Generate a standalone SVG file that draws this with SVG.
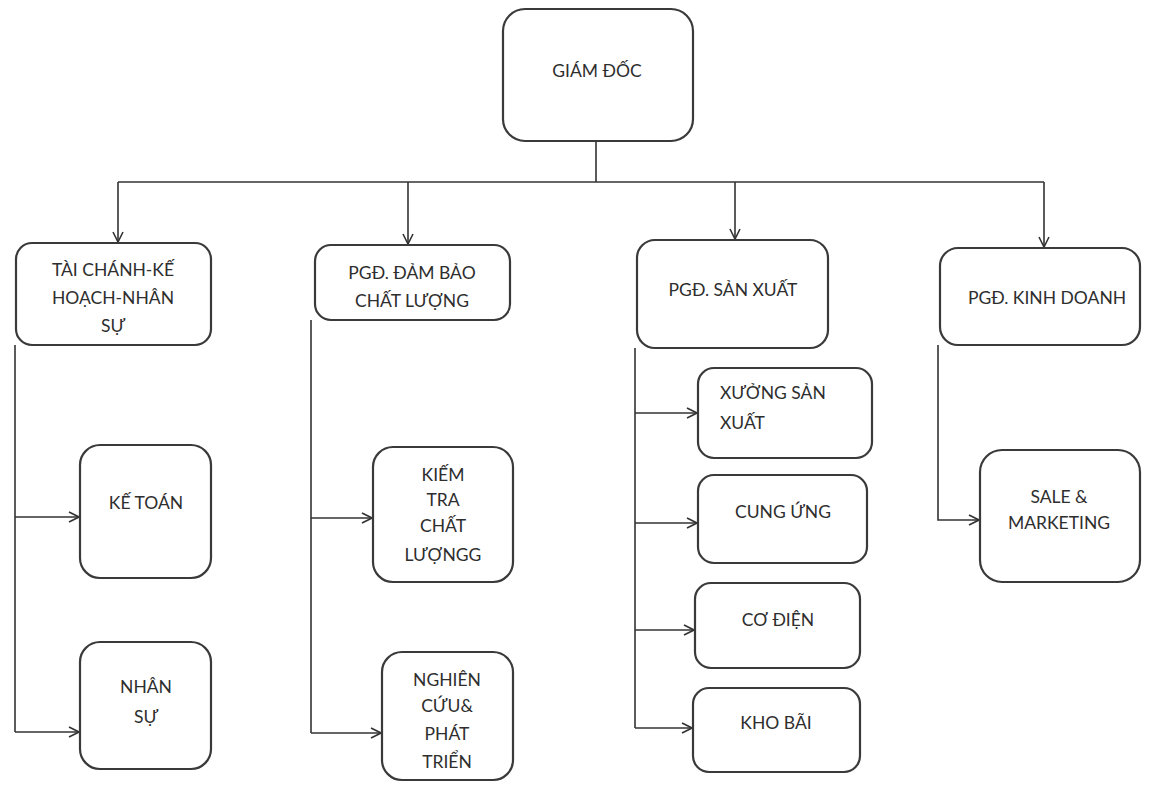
<svg xmlns="http://www.w3.org/2000/svg" width="1155" height="787" viewBox="0 0 1155 787">
<style>
.box{fill:#fff;stroke:#3a3a3a;stroke-width:2.2}
.t{font-family:Lato,"Open Sans","Liberation Sans",sans-serif;font-size:17.5px;fill:#2e2e2e;text-anchor:middle}
.tl{text-anchor:start}
.c{fill:none;stroke:#333;stroke-width:1.6}
</style>
<defs>
<marker id="ar" viewBox="0 0 12 12" refX="11" refY="6" markerWidth="12" markerHeight="12" markerUnits="userSpaceOnUse" orient="auto">
<path d="M1,1 L11,6 L1,11" fill="none" stroke="#333" stroke-width="1.6"/>
</marker>
</defs>
<rect width="1155" height="787" fill="#fff"/>
<g id="connectors">
<path class="c" d="M596,141 V182"/>
<path class="c" d="M118,182 H1044"/>
<path class="c" d="M118,182 V242" marker-end="url(#ar)"/>
<path class="c" d="M408,182 V244" marker-end="url(#ar)"/>
<path class="c" d="M735,182 V239" marker-end="url(#ar)"/>
<path class="c" d="M1044,182 V247" marker-end="url(#ar)"/>
<path class="c" d="M15,345 V732"/>
<path class="c" d="M15,517 H79" marker-end="url(#ar)"/>
<path class="c" d="M15,732 H79" marker-end="url(#ar)"/>
<path class="c" d="M311,320 V733"/>
<path class="c" d="M311,518 H372" marker-end="url(#ar)"/>
<path class="c" d="M311,733 H381" marker-end="url(#ar)"/>
<path class="c" d="M635,348 V728"/>
<path class="c" d="M635,413 H697" marker-end="url(#ar)"/>
<path class="c" d="M635,523 H697" marker-end="url(#ar)"/>
<path class="c" d="M635,630 H694" marker-end="url(#ar)"/>
<path class="c" d="M635,728 H692" marker-end="url(#ar)"/>
<path class="c" d="M938,345 V520 H979" marker-end="url(#ar)"/>
</g>
<g id="giam-doc"><rect class="box" x="503" y="9" width="190" height="132" rx="22"/><text class="t" x="597" y="77">GIÁM ĐỐC</text></g>
<g id="tai-chinh"><rect class="box" x="16" y="243" width="195" height="102" rx="16"/><text class="t" x="113" y="276">TÀI CHÁNH-KẾ</text><text class="t" x="113" y="304">HOẠCH-NHÂN</text><text class="t" x="113" y="332">SỰ</text></g>
<g id="dam-bao"><rect class="box" x="315" y="245" width="195" height="75" rx="16"/><text class="t" x="412" y="279">PGĐ. ĐẢM BẢO</text><text class="t" x="412" y="307">CHẤT LƯỢNG</text></g>
<g id="san-xuat"><rect class="box" x="637" y="240" width="191" height="108" rx="18"/><text class="t" x="733" y="296">PGĐ. SẢN XUẤT</text></g>
<g id="kinh-doanh"><rect class="box" x="940" y="248" width="200" height="97" rx="18"/><text class="t" x="1047" y="304">PGĐ. KINH DOANH</text></g>
<g id="ke-toan"><rect class="box" x="80" y="445" width="131" height="133" rx="20"/><text class="t" x="146" y="509">KẾ TOÁN</text></g>
<g id="nhan-su"><rect class="box" x="80" y="642" width="131" height="127" rx="20"/><text class="t" x="146" y="693">NHÂN</text><text class="t" x="146" y="723">SỰ</text></g>
<g id="kiem-tra"><rect class="box" x="373" y="447" width="140" height="135" rx="20"/><text class="t" x="443" y="481">KIẾM</text><text class="t" x="443" y="506">TRA</text><text class="t" x="443" y="532">CHẤT</text><text class="t" x="443" y="561">LƯỢNGG</text></g>
<g id="nghien-cuu"><rect class="box" x="382" y="652" width="131" height="128" rx="20"/><text class="t" x="447" y="686">NGHIÊN</text><text class="t" x="447" y="712">CỨU&amp;</text><text class="t" x="447" y="740">PHÁT</text><text class="t" x="447" y="768">TRIỂN</text></g>
<g id="xuong"><rect class="box" x="698" y="368" width="174" height="90" rx="16"/><text class="t tl" x="720" y="399">XƯỞNG SẢN</text><text class="t tl" x="720" y="429">XUẤT</text></g>
<g id="cung-ung"><rect class="box" x="698" y="475" width="169" height="88" rx="16"/><text class="t" x="783" y="518">CUNG ỨNG</text></g>
<g id="co-dien"><rect class="box" x="695" y="583" width="165" height="85" rx="16"/><text class="t" x="778" y="626">CƠ ĐIỆN</text></g>
<g id="kho-bai"><rect class="box" x="693" y="688" width="167" height="84" rx="16"/><text class="t" x="776" y="729">KHO BÃI</text></g>
<g id="sale"><rect class="box" x="980" y="450" width="160" height="132" rx="22"/><text class="t" x="1059" y="503">SALE &amp;</text><text class="t" x="1059" y="529">MARKETING</text></g>
</svg>
